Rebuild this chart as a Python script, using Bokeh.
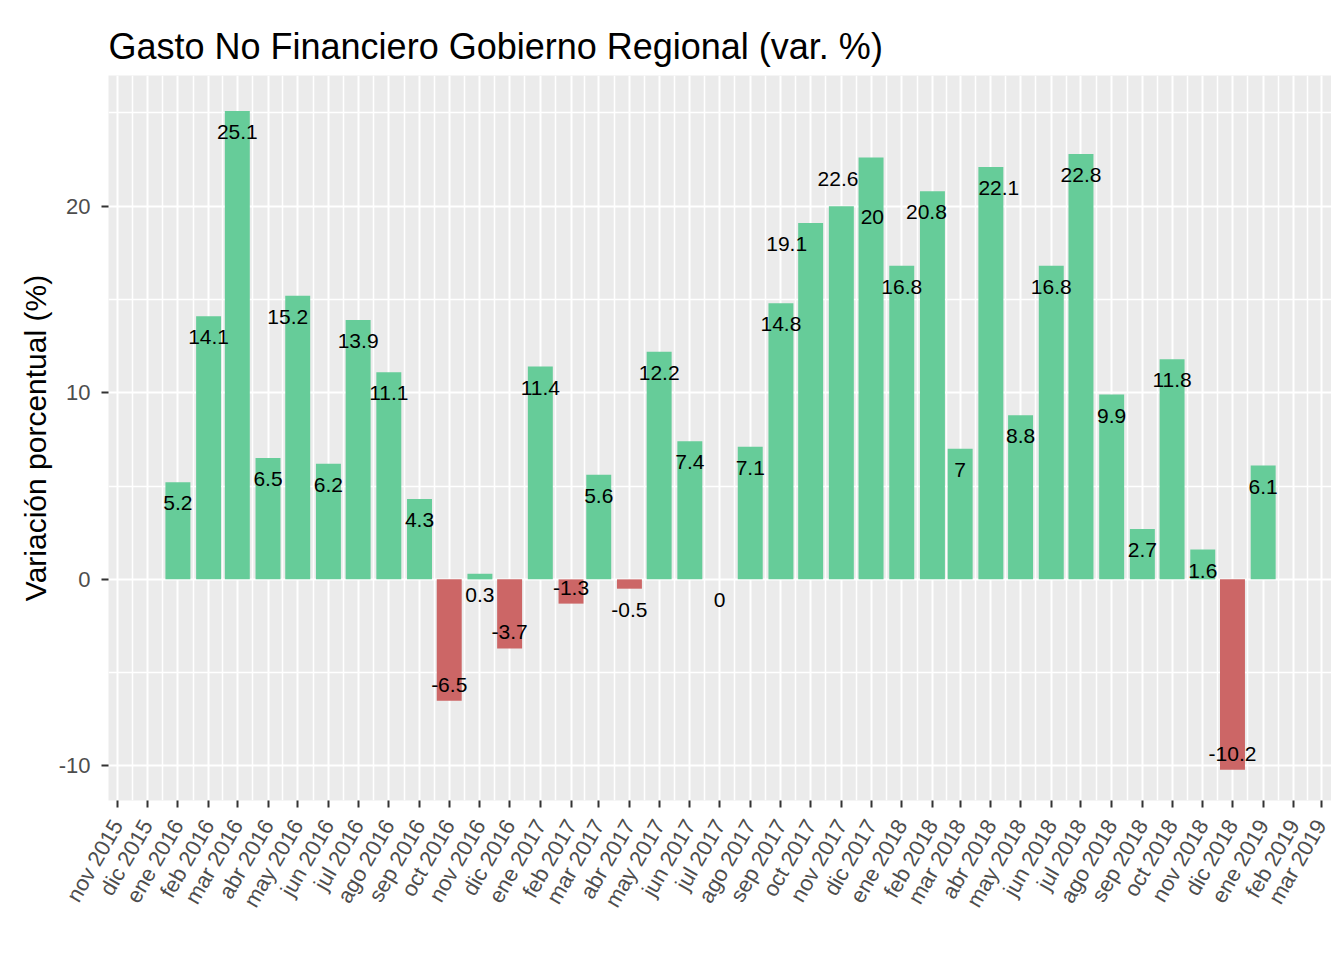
import math
import pandas as pd
from bokeh.plotting import figure
from bokeh.models import ColumnDataSource, FixedTicker, Range1d
from bokeh.core.properties import value
from bokeh.embed import file_html
from bokeh.resources import INLINE

# ---------------- data ----------------
months = [
    "2016-01", "2016-02", "2016-03", "2016-04", "2016-05", "2016-06",
    "2016-07", "2016-08", "2016-09", "2016-10", "2016-11", "2016-12",
    "2017-01", "2017-02", "2017-03", "2017-04", "2017-05", "2017-06",
    "2017-07", "2017-08", "2017-09", "2017-10", "2017-11", "2017-12",
    "2018-01", "2018-02", "2018-03", "2018-04", "2018-05", "2018-06",
    "2018-07", "2018-08", "2018-09", "2018-10", "2018-11", "2018-12",
    "2019-01",
]
var_pct = [
    5.2, 14.1, 25.1, 6.5, 15.2, 6.2, 13.9, 11.1, 4.3, -6.5, 0.3, -3.7,
    11.4, -1.3, 5.6, -0.5, 12.2, 7.4, 0.0, 7.1, 14.8, 19.1, 20.0, 22.6,
    16.8, 20.8, 7.0, 22.1, 8.8, 16.8, 22.8, 9.9, 2.7, 11.8, 1.6, -10.2,
    6.1,
]
tick_months = [
    "2015-11", "2015-12",
    "2016-01", "2016-02", "2016-03", "2016-04", "2016-05", "2016-06",
    "2016-07", "2016-08", "2016-09", "2016-10", "2016-11", "2016-12",
    "2017-01", "2017-02", "2017-03", "2017-04", "2017-05", "2017-06",
    "2017-07", "2017-08", "2017-09", "2017-10", "2017-11", "2017-12",
    "2018-01", "2018-02", "2018-03", "2018-04", "2018-05", "2018-06",
    "2018-07", "2018-08", "2018-09", "2018-10", "2018-11", "2018-12",
    "2019-01", "2019-02", "2019-03",
]
tick_labels = [
    "nov 2015", "dic 2015",
    "ene 2016", "feb 2016", "mar 2016", "abr 2016", "may 2016", "jun 2016",
    "jul 2016", "ago 2016", "sep 2016", "oct 2016", "nov 2016", "dic 2016",
    "ene 2017", "feb 2017", "mar 2017", "abr 2017", "may 2017", "jun 2017",
    "jul 2017", "ago 2017", "sep 2017", "oct 2017", "nov 2017", "dic 2017",
    "ene 2018", "feb 2018", "mar 2018", "abr 2018", "may 2018", "jun 2018",
    "jul 2018", "ago 2018", "sep 2018", "oct 2018", "nov 2018", "dic 2018",
    "ene 2019", "feb 2019", "mar 2019",
]
y_ticks = [-10, 0, 10, 20]
y_tick_labels = ["-10", "0", "10", "20"]
y_minor = [-5, 5, 15, 25]

# label nudges (pixels) reproducing the repelled labels of the original
label_nudge = {
    "2016-05": (-10, 0),
    "2017-10": (-24, 0),
    "2017-11": (31, -10),
    "2017-12": (-33, 0),
    "2018-02": (-6, 0),
    "2018-04": (8, 0),
}

# ---------------- styling ----------------
GREEN = "#66CC99"
RED = "#CC6666"
FONT = "Liberation Sans"

origin = pd.Timestamp("2015-11-01")


def to_day(m):
    return (pd.Timestamp(m + "-01") - origin).days


x = [to_day(m) for m in months]
tick_days = [to_day(m) for m in tick_months]
minor_days = [(a + b) / 2 for a, b in zip(tick_days[:-1], tick_days[1:])]

colors = [GREEN if v >= 0 else RED for v in var_pct]
labels = [f"{v:g}" for v in var_pct]
dx = [label_nudge.get(m, (0, 0))[0] for m in months]
dy = [(-16 if v < -1 else 21) + label_nudge.get(m, (0, 0))[1]
      for m, v in zip(months, var_pct)]

src = ColumnDataSource(dict(x=x, top=var_pct, color=colors, label=labels,
                            dx=dx, dy=dy))

p = figure(width=1331, height=955, output_backend="svg", toolbar_location=None,
           x_range=Range1d(-9.09, 1226.0), y_range=Range1d(-11.85, 27.0),
           min_border_left=108, min_border_right=0, min_border_top=75,
           min_border_bottom=155)

p.background_fill_color = "#EBEBEB"
p.border_fill_color = "white"
p.outline_line_color = None

p.vbar(x="x", top="top", bottom=0, width=0.9 * 28, fill_color="color",
       line_color=None, source=src)

p.text(x="x", y="top", text="label", x_offset="dx", y_offset="dy", source=src,
       text_font=value(FONT), text_font_size=value("21px"),
       text_align="center", text_baseline="middle", text_color="black")

# title
p.title.text = "Gasto No Financiero Gobierno Regional (var. %)"
p.title.text_font = FONT
p.title.text_font_size = "36px"
p.title.text_font_style = "normal"
p.title.text_color = "black"
p.title.align = "left"
p.title.standoff = 17

# axes
xt = FixedTicker(ticks=tick_days, minor_ticks=minor_days)
yt = FixedTicker(ticks=y_ticks, minor_ticks=y_minor)
p.xaxis.ticker = xt
p.yaxis.ticker = yt
p.xgrid.ticker = xt
p.ygrid.ticker = yt
p.xaxis.major_label_overrides = {d: lab for d, lab in zip(tick_days, tick_labels)}
p.yaxis.major_label_overrides = {t: lab for t, lab in zip(y_ticks, y_tick_labels)}
p.xaxis.major_label_orientation = math.pi / 3

for ax in (p.xaxis[0], p.yaxis[0]):
    ax.axis_line_color = None
    ax.major_tick_line_color = "#333333"
    ax.major_tick_line_width = 2
    ax.major_tick_out = 7
    ax.major_tick_in = 0
    ax.minor_tick_line_color = None
    ax.major_label_text_font = FONT
    ax.major_label_text_font_size = "22px"
    ax.major_label_text_color = "#4D4D4D"
p.xaxis.major_label_standoff = 14
p.yaxis.major_label_standoff = 11

p.yaxis.axis_label = "Variación porcentual (%)"
p.yaxis.axis_label_text_font = FONT
p.yaxis.axis_label_text_font_size = "30px"
p.yaxis.axis_label_text_font_style = "normal"
p.yaxis.axis_label_text_color = "black"
p.yaxis.axis_label_standoff = 4

for g in (p.xgrid[0], p.ygrid[0]):
    g.grid_line_color = "white"
    g.grid_line_width = 2
    g.minor_grid_line_color = "white"
    g.minor_grid_line_width = 1.5

open("out.html", "w").write(file_html(p, INLINE))
